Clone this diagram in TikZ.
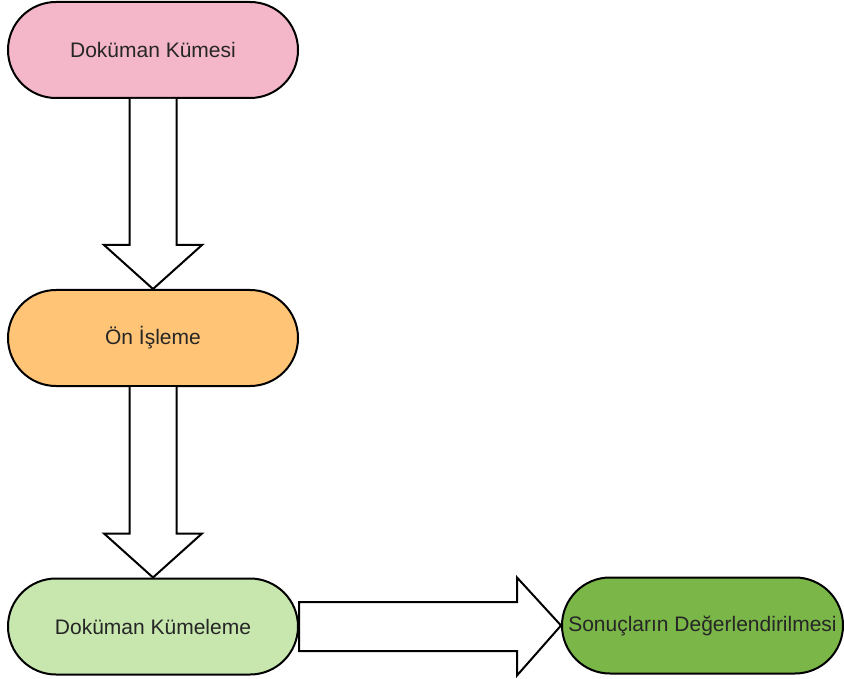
\documentclass[tikz,border=0pt]{standalone}
\usepackage{fontspec}
\setmainfont{Liberation Sans}
\usetikzlibrary{calc}
\definecolor{pinkfill}{HTML}{F4B6C9}
\definecolor{orangefill}{HTML}{FFC476}
\definecolor{lightgreenfill}{HTML}{C7E7AE}
\definecolor{greenfill}{HTML}{7AB648}
\tikzset{
  stadium/.style={draw=black, line width=2pt, rounded corners=48pt,
    minimum width=290pt, minimum height=96pt, inner sep=0pt,
    font=\fontsize{21}{25}\selectfont, text=black!85},
  blockarrow/.style={draw=black, line width=2pt, fill=white, line join=miter}
}
\begin{document}
\begin{tikzpicture}[x=1pt,y=-1pt]
  \useasboundingbox (0,0) rectangle (844,679);

  % process steps
  \node[stadium, fill=pinkfill] (docs) at (153,50) {Doküman Kümesi};
  \node[stadium, fill=orangefill] (prep) at (153,338) {Ön İşleme};
  \node[stadium, fill=lightgreenfill] (clust) at (153,626.5) {Doküman Kümeleme};
  \node[stadium, fill=greenfill, minimum width=281pt] (eval) at (702.5,625.5) {Sonuçların Değerlendirilmesi};

  % hollow block arrows between the steps (vertical)
  \foreach \a/\b in {docs/prep, prep/clust}{
    \draw[blockarrow] let \p1=(\a.south), \p2=(\b.north) in
      (\x1-23.5pt,\y1) -- (\x1-23.5pt,\y2+44pt) -- (\x1-49pt,\y2+44pt)
      -- (\x2,\y2) -- (\x1+49pt,\y2+44pt) -- (\x1+23.5pt,\y2+44pt)
      -- (\x1+23.5pt,\y1);
  }

  % horizontal block arrow to the evaluation step
  \draw[blockarrow] let \p1=(clust.east), \p2=(eval.west) in
    (\x1,\y1+24.5pt) -- (\x2-44pt,\y1+24.5pt) -- (\x2-44pt,\y1+49pt)
    -- (\x2,\y2) -- (\x2-44pt,\y1-49pt) -- (\x2-44pt,\y1-24.5pt)
    -- (\x1,\y1-24.5pt) -- cycle;
\end{tikzpicture}
\end{document}
